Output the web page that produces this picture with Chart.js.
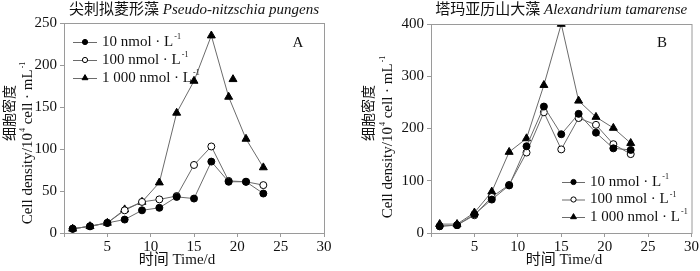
<!DOCTYPE html>
<html>
<head>
<meta charset="utf-8">
<script src="https://cdn.jsdelivr.net/npm/chart.js@4"></script>
<style>
  body { margin: 0; background: #fff; }
  .wrap { display: flex; width: 700px; height: 271px; }
  canvas { display: block; }
</style>
</head>
<body>
<div class="wrap">
  <canvas id="chartA" width="350" height="271"></canvas>
  <canvas id="chartB" width="350" height="271"></canvas>
</div>
<script>
// sampling days
const days = [1, 3, 5, 7, 9, 11, 13, 15, 17, 19, 21, 23];
// ^{..} marks a superscript
const seriesNames = ["10 nmol · L^{-1}", "100 nmol · L^{-1}", "1 000 nmol · L^{-1}"];

// A: Pseudo-nitzschia pungens
const pungens10 = [5, 8, 12, 16, 27, 30, 43, 41, 85, 61, 61, 47];
const pungens100 = [5, 8, 12, 27, 37, 40, 44, 81, 103, 62, 61, 57];
const pungens1000 = [5, 8, 12, 28, 37, 60, 143, 181, 235, 162, 112, 78];
const pungensStray = [{ x: 19.5, y: 183 }]; // lone marker in the original figure

// B: Alexandrium tamarense
const tamarense10 = [13, 15, 36, 64, 91, 166, 242, 189, 228, 192, 162, 159];
const tamarense100 = [13, 15, 34, 69, 92, 154, 231, 160, 220, 207, 170, 151];
const tamarense1000 = [17, 17, 39, 79, 155, 181, 283, 400, 253, 222, 201, 172];

const SERIF = "'Liberation Serif', 'Noto Sans CJK SC', serif";
const LINE = "#6b6b6b";
const FRAME = "#9a9a9a";
const INK = "#111";

function pts(vals) {
  return vals.map((v, i) => ({ x: days[i], y: v }));
}

const styles = [
  { pointStyle: "circle", radius: 3.5, bg: "#000", legendR: 2.6 },
  { pointStyle: "circle", radius: 3.5, bg: "#fff", legendR: 2.6 },
  { pointStyle: "triangle", radius: 4.6, bg: "#000", legendR: 3.4 },
];

function makeDatasets(lists) {
  return lists.map((vals, i) => ({
    label: seriesNames[i],
    data: pts(vals),
    borderColor: LINE,
    borderWidth: 1,
    pointStyle: styles[i].pointStyle,
    pointRadius: styles[i].radius,
    pointBackgroundColor: styles[i].bg,
    pointBorderColor: "#000",
    pointBorderWidth: 1,
    tension: 0,
  }));
}

// text with small raised parts, baseline middle
function richText(ctx, text, x, y, size, align) {
  const parts = text.split(/\^\{([^}]*)\}/);
  const sup = Math.round(size * 0.55);
  let total = 0;
  parts.forEach((p, i) => {
    ctx.font = (i % 2 ? sup : size) + "px " + SERIF;
    total += ctx.measureText(p).width + (i % 2 ? 1 : 0);
  });
  let cx = align === "center" ? x - total / 2 : x;
  ctx.textAlign = "left";
  ctx.textBaseline = "middle";
  parts.forEach((p, i) => {
    const isSup = i % 2 === 1;
    ctx.font = (isSup ? sup : size) + "px " + SERIF;
    ctx.fillText(p, cx + (isSup ? 1 : 0), isSup ? y - size * 0.32 : y);
    cx += ctx.measureText(p).width + (isSup ? 1 : 0);
  });
}

// frame, titles and in-plot legend
const decorPlugin = {
  id: "decor",
  afterDraw(chart, args, o) {
    const ctx = chart.ctx;
    const a = chart.chartArea;
    ctx.save();
    ctx.strokeStyle = FRAME;
    ctx.lineWidth = 1;
    ctx.strokeRect(a.left + 0.5, a.top + 0.5, a.right - a.left, a.bottom - a.top);

    ctx.fillStyle = INK;
    ctx.textBaseline = "middle";
    // title: chinese upright + latin italic
    ctx.font = "15px " + SERIF;
    const w1 = ctx.measureText(o.titleCn + " ").width;
    ctx.font = "italic 15px " + SERIF;
    const w2 = ctx.measureText(o.titleLatin).width;
    const tx = (a.left + a.right) / 2 - (w1 + w2) / 2;
    ctx.textAlign = "left";
    ctx.font = "15px " + SERIF;
    ctx.fillText(o.titleCn + " ", tx, 10);
    ctx.font = "italic 15px " + SERIF;
    ctx.fillText(o.titleLatin, tx + w1, 10);

    richText(ctx, "时间 Time/d", o.xTitleX, 260, 15, "center");

    ctx.save();
    ctx.translate(o.yCn[0], o.yCn[1]);
    ctx.rotate(-Math.PI / 2);
    richText(ctx, "细胞密度", 0, 0, 14, "center");
    ctx.restore();
    ctx.save();
    ctx.translate(o.yEn[0], o.yEn[1]);
    ctx.rotate(-Math.PI / 2);
    richText(ctx, "Cell density/10^{4} cell · mL^{-1}", 0, 0, 15, "center");
    ctx.restore();

    richText(ctx, o.letter, o.letterPos[0], o.letterPos[1], 15, "center");

    const L = o.legend;
    chart.data.datasets.slice(0, 3).forEach((ds, i) => {
      const y = L.y + i * L.gap;
      ctx.strokeStyle = LINE;
      ctx.lineWidth = 1;
      ctx.beginPath();
      ctx.moveTo(L.x, y + 0.5);
      ctx.lineTo(L.x + L.len, y + 0.5);
      ctx.stroke();
      ctx.fillStyle = styles[i].bg;
      ctx.strokeStyle = "#000";
      Chart.helpers.drawPoint(ctx, {
        pointStyle: styles[i].pointStyle,
        radius: styles[i].legendR,
        rotation: 0,
        borderWidth: 1,
      }, L.x + L.len / 2, y);
      ctx.fillStyle = INK;
      richText(ctx, ds.label, L.x + L.len + 5, y, 15, "left");
    });
    ctx.restore();
  },
};

function makeChart(id, datasets, yMax, yStep, box, deco) {
  return new Chart(document.getElementById(id), {
    type: "line",
    data: { datasets: datasets },
    options: {
      responsive: false,
      animation: false,
      devicePixelRatio: 1,
      layout: { padding: { left: 0, top: box.top, right: box.right, bottom: 0 } },
      plugins: {
        legend: { display: false },
        tooltip: { enabled: false },
        decor: deco,
      },
      scales: {
        x: {
          type: "linear",
          min: 0,
          max: 30,
          afterFit: (s) => { s.height = 271 - box.bottom; },
          ticks: {
            stepSize: 5,
            padding: 1,
            color: INK,
            font: { family: SERIF, size: 15 },
            callback: (v) => (v === 0 ? "" : v),
            maxRotation: 0,
          },
          grid: { drawOnChartArea: false, tickLength: 4, color: FRAME },
          border: { color: FRAME },
        },
        y: {
          min: 0,
          max: yMax,
          afterFit: (s) => { s.width = box.left; },
          ticks: {
            stepSize: yStep,
            padding: 3,
            color: INK,
            font: { family: SERIF, size: 15 },
          },
          grid: { drawOnChartArea: false, tickLength: 4, color: FRAME },
          border: { color: FRAME },
        },
      },
    },
    plugins: [decorPlugin],
  });
}

const dsA = makeDatasets([pungens10, pungens100, pungens1000]);
dsA.push({
  label: "",
  data: pungensStray,
  showLine: false,
  pointStyle: "triangle",
  pointRadius: styles[2].radius,
  pointBackgroundColor: "#000",
  pointBorderColor: "#000",
});

makeChart("chartA", dsA, 250, 50, { left: 64, top: 23, right: 26, bottom: 233 }, {
  titleCn: "尖刺拟菱形藻",
  titleLatin: "Pseudo-nitzschia pungens",
  xTitleX: 177,
  yCn: [10, 113],
  yEn: [28, 143],
  letter: "A",
  letterPos: [298, 43],
  legend: { x: 73, y: 42, gap: 18, len: 24 },
});

makeChart("chartB", makeDatasets([tamarense10, tamarense100, tamarense1000]), 400, 100,
  { left: 81, top: 24, right: 6, bottom: 233 }, {
  titleCn: "塔玛亚历山大藻",
  titleLatin: "Alexandrium tamarense",
  xTitleX: 214,
  yCn: [19, 113],
  yEn: [38, 137],
  letter: "B",
  letterPos: [312, 43],
  legend: { x: 212, y: 182, gap: 17.5, len: 23 },
});
</script>
</body>
</html>
